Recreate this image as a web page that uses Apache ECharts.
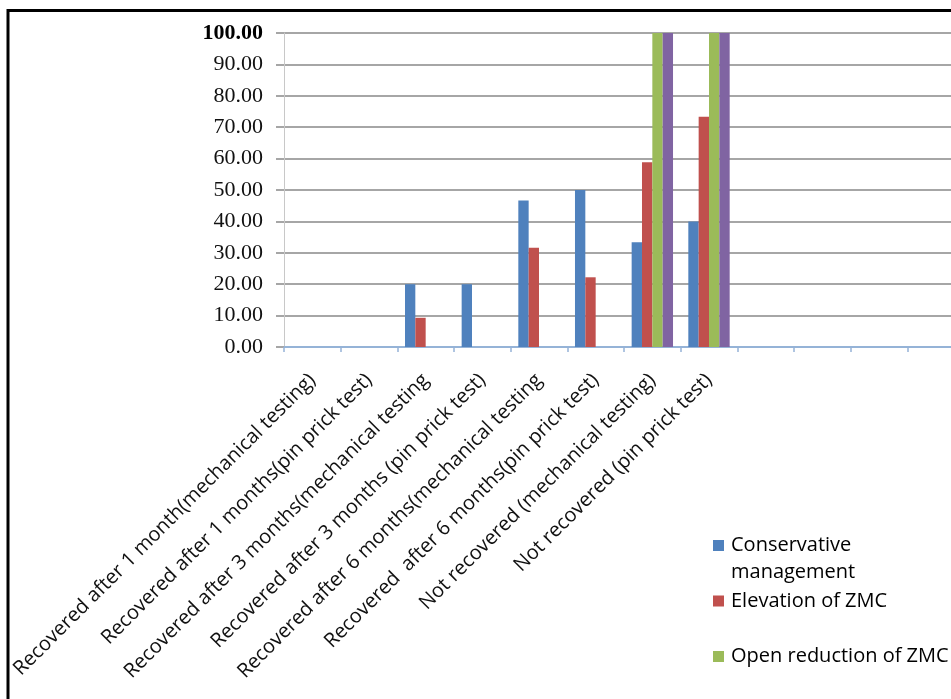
<!DOCTYPE html>
<html>
<head>
<meta charset="utf-8">
<script src="https://cdn.jsdelivr.net/npm/echarts@6/dist/echarts.min.js"></script>
<style>
html,body{margin:0;padding:0;background:#fff;}
#chart{width:951px;height:699px;}
</style>
</head>
<body>
<div id="chart"></div>
<script>
var categories = [
  'Recovered after 1 month(mechanical testing)',
  'Recovered after 1 months(pin prick test)',
  'Recovered after 3 months(mechanical testing',
  'Recovered after 3 months (pin prick test)',
  'Recovered after 6 months(mechanical testing',
  'Recovered  after 6 months(pin prick test)',
  'Not recovered (mechanical testing)',
  'Not recovered (pin prick test)',
  '', '', '', ''
];
var seriesNames = ['Conservative management', 'Elevation of ZMC', 'Open reduction of ZMC', 'Open reduction and fixation of ZMC'];
var conservative = [0, 0, 20, 20, 46.67, 50, 33.33, 40, null, null, null, null];
var elevation    = [0, 0, 9.3, 0, 31.6, 22.2, 58.8, 73.3, null, null, null, null];
var openReduction = [0, 0, 0, 0, 0, 0, 100, 100, null, null, null, null];
var fourth        = [0, 0, 0, 0, 0, 0, 100, 100, null, null, null, null];
var yMin = 0, yMax = 100, yStep = 10;

var colors = ['#4f81bd', '#c0504d', '#9bbb59', '#8064a2'];
var values = [conservative, elevation, openReduction, fourth];

var chart = echarts.init(document.getElementById('chart'), null, {renderer: 'canvas'});
var labelFont = 'Open Sans';
var option = {
  animation: false,
  backgroundColor: '#ffffff',
  color: colors,
  grid: {left: 284, right: -13, top: 33, bottom: 352, containLabel: false, outerBoundsMode: 'none'},
  legend: {
    orient: 'vertical',
    left: 713,
    top: 532,
    height: 600,
    padding: 0,
    itemWidth: 11,
    itemHeight: 38,
    itemGap: 1.5,
    icon: 'path://M0,0L11,0L11,11L0,11Z M0,38L0.001,38L0.001,38.001Z',
    selectedMode: false,
    itemStyle: {borderWidth: 0},
    textStyle: {fontFamily: labelFont, fontSize: 20, color: '#000', lineHeight: 27, padding: [0, 0, 0, 2]},
    formatter: function (n) {
      return n === 'Conservative management' ? 'Conservative\nmanagement' : n + '\n ';
    },
    data: seriesNames
  },
  xAxis: {
    type: 'category',
    data: categories,
    boundaryGap: true,
    axisLine: {show: true, lineStyle: {color: '#95b3d7', width: 2}},
    axisTick: {show: true, length: 5, alignWithLabel: false, lineStyle: {color: '#95b3d7', width: 1.5}},
    axisLabel: {interval: 0, rotate: 45, margin: 30, fontFamily: labelFont, fontSize: 20, color: '#111'},
    splitLine: {show: false}
  },
  yAxis: {
    type: 'value',
    min: yMin, max: yMax, interval: yStep,
    axisLine: {show: true, lineStyle: {color: '#c8c8c8', width: 1}},
    axisTick: {show: true, length: 8, lineStyle: {color: '#a6a6a6', width: 2}},
    axisLabel: {
      margin: 21,
      fontFamily: 'Liberation Serif', fontSize: 22, color: '#111',
      formatter: function (v) {
        var s = v.toFixed(2);
        return v === yMax ? '{b|' + s + '}' : s;
      },
      rich: {b: {fontFamily: 'Liberation Serif', fontSize: 22, fontWeight: 'bold', color: '#000'}}
    },
    splitLine: {show: true, lineStyle: {color: '#a6a6a6', width: 2}}
  },
  graphic: [{
    type: 'rect', z: 100, silent: true,
    shape: {x: 8, y: 10.5, width: 1200, height: 1000},
    style: {fill: 'none', stroke: '#000', lineWidth: 3}
  }],
  series: seriesNames.map(function (name, i) {
    return {
      name: name,
      type: 'bar',
      data: values[i],
      barGap: '0%',
      barCategoryGap: '27%',
      itemStyle: {color: colors[i]}
    };
  })
};
chart.setOption(option);
</script>
</body>
</html>
